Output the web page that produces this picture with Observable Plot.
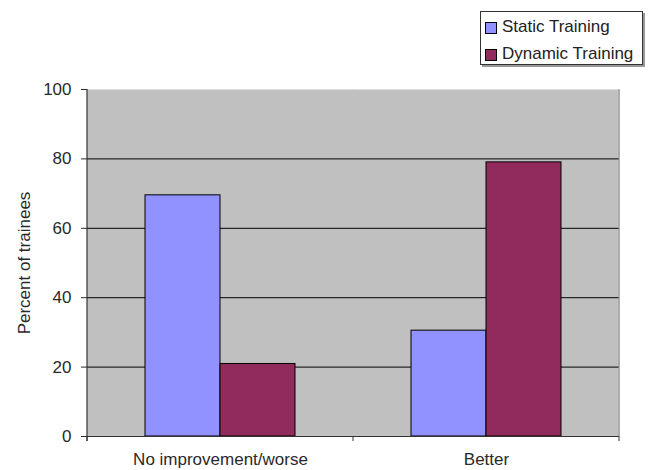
<!DOCTYPE html>
<html><head><meta charset="utf-8">
<script src="https://cdn.jsdelivr.net/npm/d3@7"></script>
<script src="https://cdn.jsdelivr.net/npm/@observablehq/plot@0.6"></script>
<style>
body{margin:0;background:#fff;font-family:"Liberation Sans",Arial,sans-serif;}
#wrap{position:relative;width:649px;height:470px;}
#legend{position:absolute;left:480px;top:11px;width:161px;height:51px;border:1px solid #333;box-shadow:2px 2px 0 #999;background:#fff;font-size:17px;color:#222;box-sizing:content-box;padding-top:1px;}
#legend .row{position:relative;height:27px;line-height:27px;padding-left:21px;white-space:nowrap;}
#legend .sw{position:absolute;left:4px;width:10px;height:10px;border:1px solid #000;}
</style></head><body>
<div id="wrap"><div id="chart"></div><div id="legend"></div></div>
<script>
const categories = ["No improvement/worse", "Better"];
const series = ["Static Training", "Dynamic Training"];
const staticValues = [69.5, 30.5];
const dynamicValues = [20.9, 79.0];
const yTicks = [0, 20, 40, 60, 80, 100];
const gridValues = [20, 40, 60, 80];
const colors = ["#9191FF", "#922B5D"];

const data = categories.flatMap((c, i) => [
  {category: c, series: series[0], value: staticValues[i]},
  {category: c, series: series[1], value: dynamicValues[i]}
]);

const chart = Plot.plot({
  width: 649, height: 470,
  marginLeft: 87, marginRight: 30, marginTop: 89, marginBottom: 34,
  style: {fontFamily: "Liberation Sans, Arial, sans-serif", fontSize: "17px", color: "#2a2a2a", background: "#fff"},
  fx: {domain: categories, padding: 0, label: null},
  x: {domain: series, paddingInner: 0, paddingOuter: 0.76, axis: null},
  y: {domain: [0, 100], label: null},
  color: {domain: series, range: colors},
  marks: [
    Plot.frame({fill: "#C0C0C0", stroke: "none", insetLeft: -0.5, insetRight: -0.5}),
    Plot.ruleY(gridValues, {stroke: "#000", strokeWidth: 1}),
    Plot.barY(data, {fx: "category", x: "series", y: "value", fill: "series", stroke: "#000", strokeWidth: 1, inset: 0}),
    Plot.ruleY([0], {stroke: "#333", strokeWidth: 1}),
    Plot.axisY({ticks: yTicks, tickSize: 6, tickPadding: 10, anchor: "left",
      label: "Percent of trainees", labelAnchor: "center", labelOffset: 70, labelArrow: "none"}),
    Plot.axisFx({tickSize: 0, tickPadding: 16, label: null, anchor: "bottom"})
  ]
});

// axis line and category boundary ticks from the scales
const fxS = chart.scale("fx"), yS = chart.scale("y");
const y0 = yS.apply(0), yTop = yS.apply(100);
const bounds = categories.map(c => fxS.apply(c)).concat([fxS.apply(categories[categories.length - 1]) + fxS.bandwidth]);
const svg = d3.select(chart);
svg.append("line").attr("x1", bounds[0]).attr("x2", bounds[0]).attr("y1", yTop).attr("y2", y0 + 5)
  .attr("stroke", "#333").attr("stroke-width", 1.2);
for (const b of bounds) {
  svg.append("line").attr("x1", b).attr("x2", b).attr("y1", y0).attr("y2", y0 + 5).attr("stroke", "#333");
}
svg.append("line").attr("x1", bounds[bounds.length - 1]).attr("x2", bounds[bounds.length - 1])
  .attr("y1", yTop).attr("y2", y0).attr("stroke", "#999");

document.getElementById("chart").appendChild(chart);

const legend = d3.select("#legend");
series.forEach((s, i) => {
  const row = legend.append("div").attr("class", "row");
  row.append("span").attr("class", "sw").style("background", colors[i]).style("top", "9px");
  row.append("span").text(s);
});
</script>
</body></html>
